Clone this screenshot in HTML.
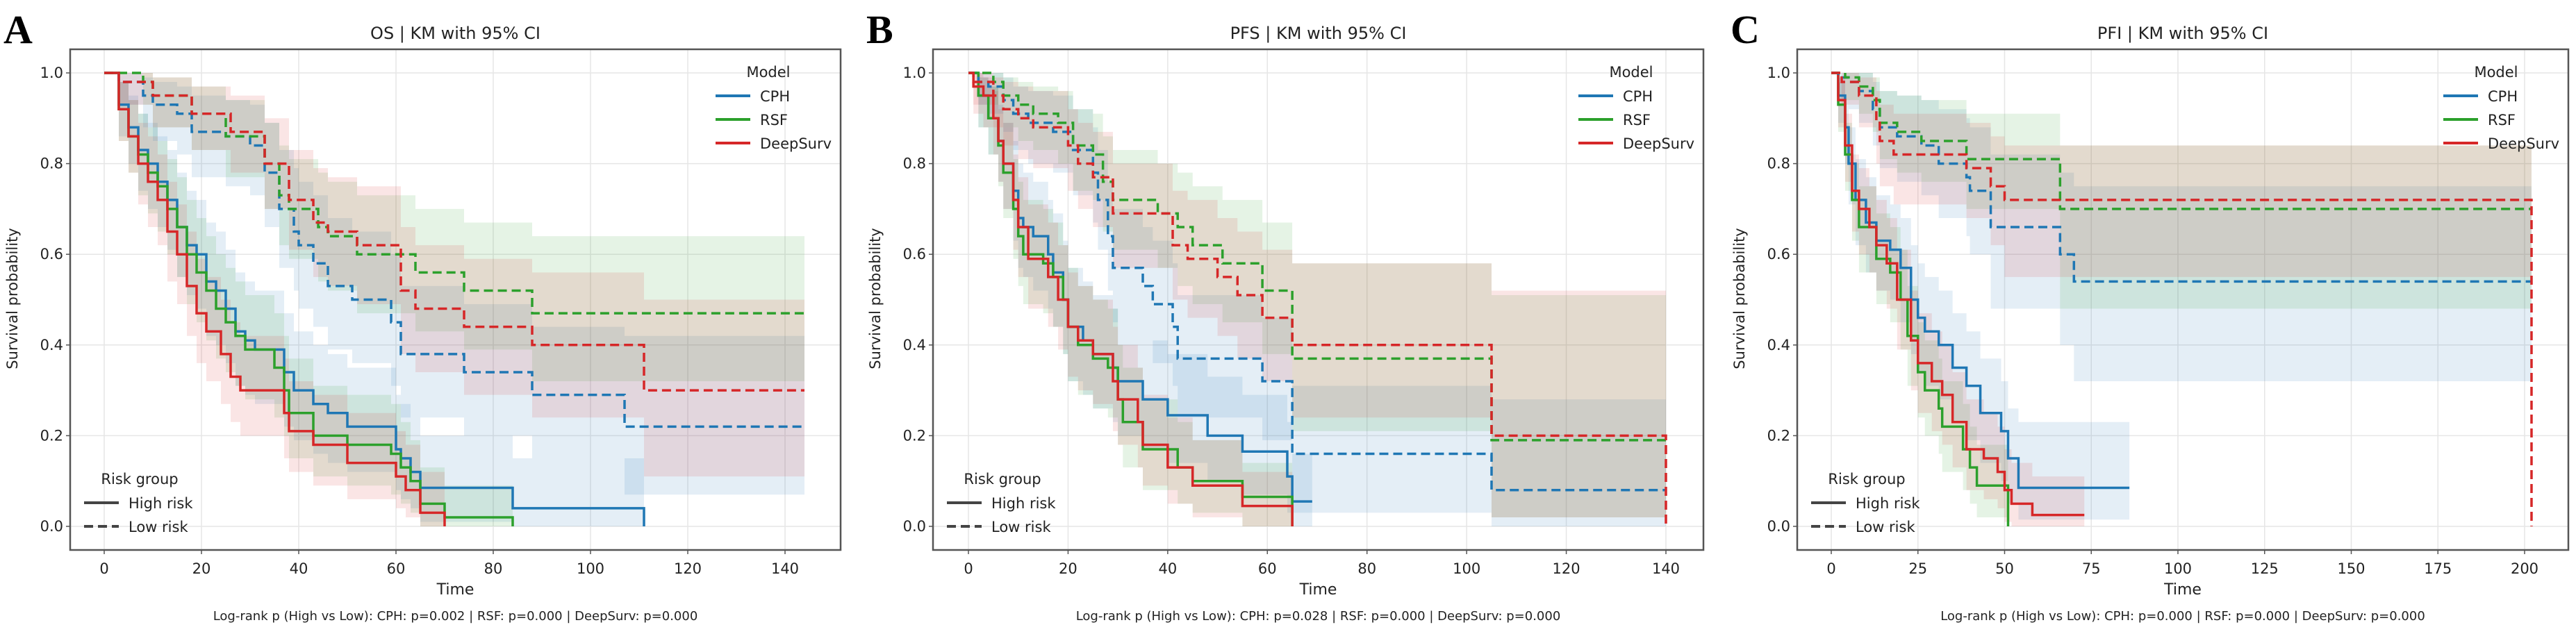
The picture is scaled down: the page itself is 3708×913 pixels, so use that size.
<!DOCTYPE html>
<html><head><meta charset="utf-8"><style>
html,body{margin:0;padding:0;background:#fff}
svg{display:block}
text{font-family:"DejaVu Sans","Liberation Sans",sans-serif;fill:#222}
</style></head><body>
<svg id="fig" width="3708" height="913" viewBox="0 0 3708 913" xmlns="http://www.w3.org/2000/svg"></svg>
<script>
// ---------- data ----------
const panelTitles = ["OS | KM with 95% CI","PFS | KM with 95% CI","PFI | KM with 95% CI"];
const panelLetters = ["A","B","C"];
const footers = [
 "Log-rank p (High vs Low): CPH: p=0.002 | RSF: p=0.000 | DeepSurv: p=0.000",
 "Log-rank p (High vs Low): CPH: p=0.028 | RSF: p=0.000 | DeepSurv: p=0.000",
 "Log-rank p (High vs Low): CPH: p=0.000 | RSF: p=0.000 | DeepSurv: p=0.000"];
const xTicksA = [0,20,40,60,80,100,120,140];
const xTicksB = [0,20,40,60,80,100,120,140];
const xTicksC = [0,25,50,75,100,125,150,175,200];
const yTicks = [0.0,0.2,0.4,0.6,0.8,1.0];
const models = ["CPH","RSF","DeepSurv"];

// Panel A (OS)
const A_cph_hi_t = [0,3,5,7,9,11,13,15,17,19,21,23,25,27,29,31,37,39,43,46,50,60,61,63,65,84,111];
const A_cph_hi_s = [1,.93,.88,.83,.80,.76,.72,.66,.62,.60,.54,.52,.48,.43,.41,.39,.34,.30,.27,.25,.22,.17,.15,.12,.085,.04,0];
const A_cph_hi_lo= [1,.86,.80,.74,.70,.66,.61,.55,.51,.48,.42,.40,.36,.31,.29,.27,.22,.19,.16,.14,.12,.08,.06,.04,.01,0,0];
const A_cph_hi_up= [1,.98,.95,.91,.89,.86,.83,.78,.74,.72,.67,.65,.61,.56,.54,.52,.47,.43,.40,.38,.35,.29,.27,.24,.20,.15,.15];
const A_rsf_hi_t = [0,3,5,7,9,11,13,15,17,19,21,23,25,27,29,35,37,38,43,50,59,61,63,65,70,84];
const A_rsf_hi_s = [1,.92,.86,.82,.78,.75,.70,.66,.60,.56,.52,.48,.45,.42,.39,.35,.30,.25,.20,.18,.16,.13,.10,.05,.02,0];
const A_rsf_hi_lo= [1,.85,.78,.73,.69,.65,.60,.55,.49,.45,.41,.37,.34,.31,.28,.24,.20,.15,.11,.09,.07,.05,.03,0,0,0];
const A_rsf_hi_up= [1,.98,.94,.91,.88,.85,.81,.77,.72,.68,.64,.60,.57,.54,.51,.47,.42,.37,.31,.29,.27,.23,.19,.13,.09,.09];
const A_ds_hi_t  = [0,3,5,7,9,11,13,15,17,19,21,24,26,28,37,38,43,50,60,62,65,70];
const A_ds_hi_s  = [1,.92,.86,.80,.76,.72,.65,.60,.53,.47,.43,.38,.33,.30,.25,.21,.18,.14,.11,.08,.03,0];
const A_ds_hi_lo = [1,.85,.78,.71,.66,.62,.54,.49,.42,.36,.32,.27,.23,.20,.15,.12,.09,.06,.04,.02,0,0];
const A_ds_hi_up = [1,.98,.94,.89,.86,.82,.76,.71,.65,.59,.55,.50,.45,.42,.37,.32,.29,.25,.21,.18,.12,.12];
const A_cph_lo_t = [0,3,8,10,15,18,25,30,33,36,39,40,43,46,51,59,61,74,88,107,144];
const A_cph_lo_s = [1,.98,.95,.93,.91,.87,.86,.84,.78,.70,.65,.62,.58,.53,.50,.45,.38,.34,.29,.22,.22];
const A_cph_lo_lo= [1,.93,.88,.85,.82,.77,.75,.73,.66,.57,.52,.48,.44,.39,.36,.31,.24,.20,.15,.07,.07];
const A_cph_lo_up= [1,1,.99,.98,.97,.95,.94,.93,.89,.83,.79,.76,.73,.68,.65,.60,.53,.49,.44,.42,.42];
const A_rsf_lo_t = [0,8,10,18,25,33,36,38,44,46,52,64,74,88,144];
const A_rsf_lo_s = [1,.98,.95,.91,.86,.80,.73,.70,.66,.64,.60,.56,.52,.47,.47];
const A_rsf_lo_lo= [1,.93,.88,.83,.77,.70,.62,.59,.54,.52,.47,.43,.39,.32,.32];
const A_rsf_lo_up= [1,1,.99,.97,.94,.89,.84,.81,.78,.76,.73,.70,.67,.64,.64];
const A_ds_lo_t  = [0,3,10,18,26,33,38,43,46,52,61,64,74,88,111,144];
const A_ds_lo_s  = [1,.98,.95,.91,.87,.80,.72,.67,.65,.62,.52,.48,.44,.40,.30,.30];
const A_ds_lo_lo = [1,.93,.88,.83,.78,.70,.61,.55,.53,.49,.38,.34,.29,.24,.11,.11];
const A_ds_lo_up = [1,1,.99,.97,.95,.90,.83,.79,.77,.75,.66,.62,.59,.56,.50,.50];

// Panel B (PFS)
const B_cph_hi_t = [0,2,4,6,7,9,10,11,13,16,17,19,20,23,25,29,30,35,40,48,55,64,65,69];
const B_cph_hi_s = [1,.95,.90,.85,.80,.74,.68,.66,.64,.60,.56,.50,.44,.41,.38,.35,.32,.28,.245,.20,.165,.11,.055,.055];
const B_cph_hi_lo= [1,.88,.82,.76,.70,.63,.57,.55,.52,.48,.44,.38,.32,.29,.26,.23,.20,.17,.14,.10,.07,.03,0,0];
const B_cph_hi_up= [1,.99,.97,.93,.89,.85,.80,.78,.76,.72,.69,.63,.57,.54,.51,.48,.45,.41,.38,.33,.29,.23,.16,.16];
const B_rsf_hi_t = [0,2,4,6,7,9,10,11,15,17,19,20,22,25,28,30,31,35,42,45,55,65];
const B_rsf_hi_s = [1,.95,.90,.84,.78,.70,.64,.60,.58,.55,.50,.44,.40,.37,.35,.28,.23,.17,.13,.10,.065,0];
const B_rsf_hi_lo= [1,.88,.82,.75,.68,.59,.53,.49,.47,.44,.38,.32,.29,.26,.24,.18,.13,.08,.05,.03,0,0];
const B_rsf_hi_up= [1,.99,.97,.93,.88,.81,.76,.72,.70,.67,.62,.57,.53,.50,.48,.40,.35,.28,.23,.19,.14,.14];
const B_ds_hi_t  = [0,1,3,5,6,7,9,10,12,16,18,20,22,25,29,30,34,35,40,45,55,65];
const B_ds_hi_s  = [1,.97,.95,.90,.85,.80,.72,.66,.59,.55,.50,.44,.41,.38,.32,.28,.23,.18,.13,.09,.045,0];
const B_ds_hi_lo = [1,.91,.88,.82,.76,.70,.61,.55,.48,.44,.39,.33,.30,.27,.21,.18,.13,.09,.05,.02,0,0];
const B_ds_hi_up = [1,1,.99,.96,.92,.89,.82,.77,.71,.67,.62,.56,.53,.50,.44,.40,.35,.29,.24,.19,.12,.12];
const B_cph_lo_t = [0,2,4,7,9,12,17,21,25,26,28,29,35,37,41,42,59,65,105,140];
const B_cph_lo_s = [1,.98,.97,.94,.91,.89,.87,.83,.78,.72,.64,.57,.53,.49,.44,.37,.32,.16,.08,.08];
const B_cph_lo_lo= [1,.93,.91,.87,.83,.80,.78,.73,.67,.61,.52,.45,.41,.36,.31,.24,.19,.03,0,0];
const B_cph_lo_up= [1,1,1,.99,.97,.96,.95,.92,.88,.83,.76,.70,.66,.63,.58,.51,.46,.31,.28,.28];
const B_rsf_lo_t = [0,5,7,10,13,18,21,25,27,29,38,42,45,51,59,65,105,140];
const B_rsf_lo_s = [1,.98,.95,.93,.91,.89,.84,.82,.76,.72,.69,.66,.62,.58,.52,.37,.19,.19];
const B_rsf_lo_lo= [1,.93,.88,.85,.83,.80,.74,.72,.65,.61,.57,.53,.49,.45,.38,.21,.02,.02];
const B_rsf_lo_up= [1,1,.99,.98,.97,.96,.92,.91,.86,.83,.80,.78,.75,.72,.67,.58,.51,.51];
const B_ds_lo_t  = [0,1,5,7,10,13,20,22,25,29,41,44,50,54,59,65,105,140,140];
const B_ds_lo_s  = [1,.98,.95,.92,.90,.88,.84,.80,.77,.69,.62,.59,.55,.51,.46,.40,.20,.20,0];
const B_ds_lo_lo = [1,.93,.88,.84,.81,.79,.74,.70,.66,.57,.50,.46,.42,.37,.32,.24,.02,.02,.02];
const B_ds_lo_up = [1,1,.99,.98,.97,.96,.92,.89,.87,.80,.74,.72,.68,.65,.61,.58,.52,.52,.52];

// Panel C (PFI)
const C_cph_hi_t = [0,2,4,5,7,10,13,17,20,23,25,27,31,35,39,43,49,51,54,86];
const C_cph_hi_s = [1,.95,.88,.80,.72,.67,.63,.61,.57,.50,.46,.43,.40,.35,.31,.25,.21,.15,.085,.085];
const C_cph_hi_lo= [1,.89,.80,.71,.62,.56,.52,.50,.45,.38,.34,.31,.28,.23,.19,.14,.10,.05,.015,.015];
const C_cph_hi_up= [1,.99,.94,.88,.81,.77,.73,.71,.68,.62,.58,.55,.52,.47,.43,.37,.32,.26,.23,.23];
const C_rsf_hi_t = [0,2,4,6,8,13,17,20,22,25,27,31,32,38,40,42,51];
const C_rsf_hi_s = [1,.93,.82,.72,.66,.59,.56,.50,.42,.34,.30,.26,.22,.17,.13,.09,0];
const C_rsf_hi_lo= [1,.87,.74,.63,.56,.49,.45,.39,.31,.24,.20,.16,.12,.08,.05,.02,0];
const C_rsf_hi_up= [1,.98,.89,.80,.75,.69,.66,.61,.53,.45,.41,.37,.32,.27,.22,.18,.18];
const C_ds_hi_t  = [0,2,4,6,8,11,13,16,19,23,25,29,32,35,39,44,48,50,52,58,73];
const C_ds_hi_s  = [1,.94,.84,.74,.70,.66,.62,.58,.50,.41,.36,.32,.29,.23,.17,.15,.12,.08,.05,.025,.025];
const C_ds_hi_lo = [1,.88,.76,.65,.60,.56,.52,.48,.39,.30,.25,.21,.18,.13,.08,.06,.04,.01,0,0,0];
const C_ds_hi_up = [1,.99,.91,.82,.79,.75,.72,.68,.61,.52,.47,.43,.40,.34,.28,.25,.22,.17,.14,.11,.11];
const C_cph_lo_t = [0,2,5,8,12,14,19,26,31,39,40,46,66,70,202];
const C_cph_lo_s = [1,.99,.98,.96,.92,.88,.86,.84,.80,.77,.74,.66,.60,.54,.54];
const C_cph_lo_lo= [1,.94,.92,.89,.84,.79,.76,.73,.68,.64,.60,.48,.40,.32,.32];
const C_cph_lo_up= [1,1,1,1,.98,.96,.95,.94,.92,.90,.88,.82,.78,.75,.75];
const C_rsf_lo_t = [0,4,8,12,14,19,26,39,66,202];
const C_rsf_lo_s = [1,.99,.97,.94,.89,.87,.85,.81,.70,.70];
const C_rsf_lo_lo= [1,.94,.91,.87,.81,.78,.76,.70,.48,.48];
const C_rsf_lo_up= [1,1,1,.99,.96,.95,.94,.91,.84,.84];
const C_ds_lo_t  = [0,3,8,13,14,18,39,46,50,202,202];
const C_ds_lo_s  = [1,.98,.95,.89,.85,.82,.79,.75,.72,.72,0];
const C_ds_lo_lo = [1,.93,.88,.80,.75,.71,.68,.62,.55,.55,.55];
const C_ds_lo_up = [1,1,.99,.96,.93,.91,.89,.86,.84,.84,.84];

const panelSeries = [
 [[A_cph_hi_t,A_cph_hi_s,A_cph_hi_lo,A_cph_hi_up,0,0],[A_rsf_hi_t,A_rsf_hi_s,A_rsf_hi_lo,A_rsf_hi_up,1,0],[A_ds_hi_t,A_ds_hi_s,A_ds_hi_lo,A_ds_hi_up,2,0],
  [A_cph_lo_t,A_cph_lo_s,A_cph_lo_lo,A_cph_lo_up,0,1],[A_rsf_lo_t,A_rsf_lo_s,A_rsf_lo_lo,A_rsf_lo_up,1,1],[A_ds_lo_t,A_ds_lo_s,A_ds_lo_lo,A_ds_lo_up,2,1]],
 [[B_cph_hi_t,B_cph_hi_s,B_cph_hi_lo,B_cph_hi_up,0,0],[B_rsf_hi_t,B_rsf_hi_s,B_rsf_hi_lo,B_rsf_hi_up,1,0],[B_ds_hi_t,B_ds_hi_s,B_ds_hi_lo,B_ds_hi_up,2,0],
  [B_cph_lo_t,B_cph_lo_s,B_cph_lo_lo,B_cph_lo_up,0,1],[B_rsf_lo_t,B_rsf_lo_s,B_rsf_lo_lo,B_rsf_lo_up,1,1],[B_ds_lo_t,B_ds_lo_s,B_ds_lo_lo,B_ds_lo_up,2,1]],
 [[C_cph_hi_t,C_cph_hi_s,C_cph_hi_lo,C_cph_hi_up,0,0],[C_rsf_hi_t,C_rsf_hi_s,C_rsf_hi_lo,C_rsf_hi_up,1,0],[C_ds_hi_t,C_ds_hi_s,C_ds_hi_lo,C_ds_hi_up,2,0],
  [C_cph_lo_t,C_cph_lo_s,C_cph_lo_lo,C_cph_lo_up,0,1],[C_rsf_lo_t,C_rsf_lo_s,C_rsf_lo_lo,C_rsf_lo_up,1,1],[C_ds_lo_t,C_ds_lo_s,C_ds_lo_lo,C_ds_lo_up,2,1]]
];
const xTickSets = [xTicksA,xTicksB,xTicksC];

// ---------- layout ----------
const colors = ["#1f77b4","#2ca02c","#d62728"];
const layouts = [
 {box:[101,71,1210,792], x0:150, x1:1130, dmax:140},
 {box:[1343,71,2452,792], x0:1394, x1:2398, dmax:140},
 {box:[2587,71,3697,792], x0:2636, x1:3634, dmax:200}
];
const Y1 = 105, Y0 = 758;
const NS = "http://www.w3.org/2000/svg";
const svg = document.getElementById("fig");
function mk(tag, attrs, parent, txt){
  const e = document.createElementNS(NS, tag);
  for (const k in attrs) e.setAttribute(k, attrs[k]);
  if (txt !== undefined) e.textContent = txt;
  (parent||svg).appendChild(e);
  return e;
}
function yS(v){ return Y0 + (Y1 - Y0) * v; }

layouts.forEach((L, p) => {
  const xS = v => L.x0 + (L.x1 - L.x0) * v / L.dmax;
  const g = mk("g", {});
  
  
  const [bx0, by0, bx1, by1] = L.box;
  // grid
  const grid = mk("g", {stroke:"#e6e6e6","stroke-width":1.5}, g);
  
  
  xTickSets[p].forEach(v => mk("line",{x1:xS(v),x2:xS(v),y1:by0,y2:by1},grid));
  yTicks.forEach(v => mk("line",{x1:bx0,x2:bx1,y1:yS(v),y2:yS(v)},grid));
  // bands
  panelSeries[p].forEach(s => {
    const [t, sv, lo, up, m, low] = s;
    let d = "M" + xS(t[0]) + "," + yS(up[0]);
    for (let i = 1; i < t.length; i++) d += "H" + xS(t[i]) + "V" + yS(up[i]);
    d += "V" + yS(lo[t.length-1]);
    for (let i = t.length - 1; i > 0; i--) d += "H" + xS(t[i]) + "V" + yS(lo[i-1]);
    d += "H" + xS(t[0]) + "Z";
    const b = mk("path", {d:d, fill:colors[m], "fill-opacity":0.12, stroke:"none"}, g);
    
    
  });
  // lines
  panelSeries[p].forEach(s => {
    const [t, sv, lo, up, m, low] = s;
    let d = "M" + xS(t[0]) + "," + yS(sv[0]);
    for (let i = 1; i < t.length; i++) d += "H" + xS(t[i]) + "V" + yS(sv[i]);
    const a = {d:d, fill:"none", stroke:colors[m], "stroke-width":3.5};
    if (low) a["stroke-dasharray"] = "13,7";
    const l = mk("path", a, g);
    
    
  });
  // frame
  const fr = mk("rect",{x:bx0,y:by0,width:bx1-bx0,height:by1-by0,fill:"none",stroke:"#555","stroke-width":2.5},g);
  
  
  // ticks
  xTickSets[p].forEach(v => {
    mk("line",{x1:xS(v),x2:xS(v),y1:by1,y2:by1+6,stroke:"#555","stroke-width":1.5},g);
    const tl = mk("text",{x:xS(v),y:by1+34,"text-anchor":"middle","font-size":21},g,String(v));
    
    
  });
  yTicks.forEach(v => {
    mk("line",{x1:bx0-6,x2:bx0,y1:yS(v),y2:yS(v),stroke:"#555","stroke-width":1.5},g);
    const tl = mk("text",{x:bx0-10,y:yS(v)+7,"text-anchor":"end","font-size":21},g,v.toFixed(1));
    
    
  });
  const cx = (bx0 + bx1) / 2;
  const xt = mk("text",{x:cx,y:856,"text-anchor":"middle","font-size":22},g,"Time");
  
  
  const yt = mk("text",{x:0,y:0,"text-anchor":"middle","font-size":21,transform:"translate("+(bx0-76)+",430) rotate(-90)"},g,"Survival probability");
  
  
  const tt = mk("text",{x:cx,y:56,"text-anchor":"middle","font-size":24},g,panelTitles[p]);
  
  
  const ft = mk("text",{x:cx,y:893,"text-anchor":"middle","font-size":18},g,footers[p]);
  
  
  const lt = mk("text",{x:L.box[0]-96,y:62,"font-size":58,"font-weight":"bold","font-family":"Liberation Serif, serif",style:"font-family:'Liberation Serif',serif;fill:#000"},g,panelLetters[p]);
  
  
  // model legend
  const lg = mk("g",{},g);
  
  
  const lx = bx1 - 200;
  mk("text",{x:lx+96,y:111,"text-anchor":"middle","font-size":21},lg,"Model");
  models.forEach((mName, i) => {
    const yy = 138 + i * 34;
    mk("line",{x1:lx+20,x2:lx+70,y1:yy,y2:yy,stroke:colors[i],"stroke-width":4},lg);
    const e = mk("text",{x:lx+84,y:yy+8,"font-size":21},lg,mName);
    
    
  });
  // risk legend
  const rg = mk("g",{},g);
  
  
  const rx = bx0 + 20;
  mk("text",{x:rx+80,y:697,"text-anchor":"middle","font-size":21},rg,"Risk group");
  mk("line",{x1:rx,x2:rx+50,y1:724,y2:724,stroke:"#444","stroke-width":4},rg);
  mk("text",{x:rx+64,y:732,"font-size":21},rg,"High risk");
  mk("line",{x1:rx,x2:rx+50,y1:758,y2:758,stroke:"#444","stroke-width":4,"stroke-dasharray":"13,7"},rg);
  mk("text",{x:rx+64,y:766,"font-size":21},rg,"Low risk");
});
</script>
</body></html>
